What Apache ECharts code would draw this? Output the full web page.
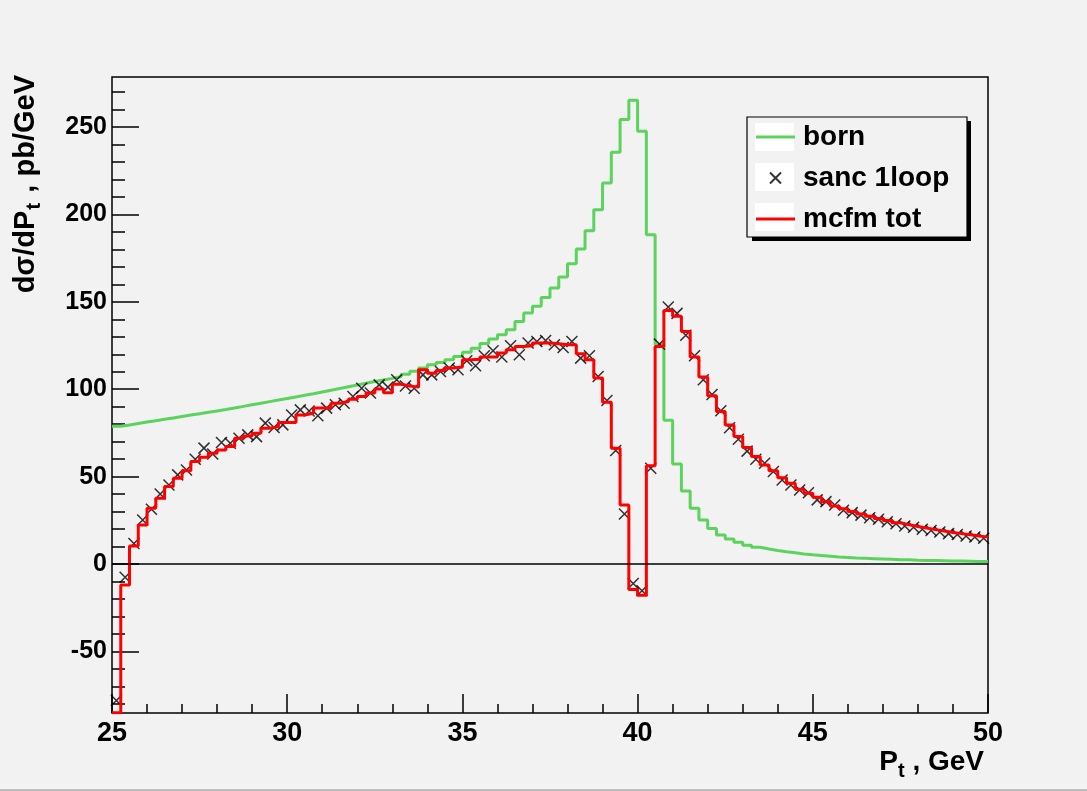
<!DOCTYPE html>
<html><head><meta charset="utf-8">
<script src="https://cdn.jsdelivr.net/npm/echarts@6/dist/echarts.min.js"></script>
<style>html,body{margin:0;padding:0;background:#f2f2f2;}#chart{width:1087px;height:791px;}</style>
</head><body><div id="chart"></div>
<script>
// histogram binning: 100 bins of 0.25 GeV from 25 to 50
const xBinStart = 25;
const xBinWidth = 0.25;

const seriesNames = ['born', 'sanc 1loop', 'mcfm tot'];

const born = [
78.8,79.6,80.4,81.2,82.0,82.8,83.6,84.4,85.2,86.0,
86.8,87.6,88.4,89.3,90.2,91.1,92.0,92.9,93.8,94.7,
95.6,96.5,97.4,98.4,99.4,100.4,101.4,102.4,103.4,104.4,
105.3,106.2,107.3,108.6,110.3,112.1,114.0,115.3,116.8,118.7,
121.2,123.5,126.2,128.7,131.2,134.0,138.8,143.6,147.4,152.5,
157.9,164.2,171.8,180.2,190.7,202.7,218.0,235.6,254.3,265.3,
247.6,188.4,125.5,82.2,57.3,41.8,31.9,25.2,20.4,16.6,
14.3,12.4,10.8,9.6,8.6,7.7,7.0,6.4,5.8,5.3,
4.9,4.5,4.1,3.8,3.5,3.3,3.1,2.9,2.7,2.5,
2.4,2.2,2.1,2.0,1.9,1.8,1.7,1.6,1.5,1.4
];

const sanc = [
-78,-7.6,11.8,25.2,31.3,40.1,45.2,51.0,53.8,60.0,
66.3,63.0,69.5,69.1,72.0,73.9,72.9,80.6,78.1,79.6,
85.3,88.2,87.6,84.8,89.2,91.1,92.0,95.8,100.6,97.8,
102.5,101.2,105.4,101.9,100.6,108.2,108.2,110.1,112.1,111.1,
116.3,113.4,119.1,122.0,118.4,124.9,119.7,126.4,127.3,127.9,
125.4,123.9,127.3,117.8,119.1,107.3,93.5,64.9,28.6,-11.1,
-15.3,54.8,125.8,147.0,143.4,130.9,119.1,105.4,97.0,87.7,
78.0,71.4,64.6,60.0,57.7,52.9,48.1,45.2,42.4,40.8,
36.7,35.7,33.8,30.8,29.4,28.0,26.5,25.6,24.2,23.0,
21.8,21.0,19.9,19.2,18.3,17.4,16.9,16.0,15.5,14.8
];

const mcfm = [
-85,-12.0,10.3,22.3,31.9,37.6,44.3,49.1,53.4,58.6,
61.1,63.4,65.3,67.2,72.0,73.3,74.8,77.7,78.6,80.9,
80.9,85.3,86.3,89.2,89.2,92.0,93.0,94.3,95.8,97.8,
100.1,98.0,102.8,101.9,101.2,111.1,109.2,110.7,112.1,112.7,
116.8,117.2,118.4,118.4,120.7,122.6,124.5,124.9,126.4,126.4,
126.0,125.4,125.4,120.3,116.8,106.4,92.5,66.2,33.8,-14.5,
-17.8,56.3,124.5,145.1,141.8,133.0,118.4,107.0,96.2,87.2,
79.6,72.9,66.6,61.5,56.7,53.4,49.4,46.2,42.8,40.5,
38.2,35.7,33.2,31.6,30.0,28.7,27.4,26.1,24.9,23.6,
22.5,21.5,20.6,19.7,18.9,18.1,17.4,16.7,16.0,15.4
];

const yMajorTicks = [-50, 0, 50, 100, 150, 200, 250];
const yMinorTicks = [-80,-70,-60,-40,-30,-20,-10,10,20,30,40,60,70,80,90,110,120,130,140,160,170,180,190,210,220,230,240,260,270];
const yRange = [-85.2, 278.6];
const xRange = [25, 50];

function histogramSteps(values) {
  const pts = values.map((v, i) => [xBinStart + i * xBinWidth, v]);
  pts.push([xBinStart + values.length * xBinWidth, values[values.length - 1]]);
  return pts;
}
function binCenters(values) {
  return values.map((v, i) => [xBinStart + (i + 0.5) * xBinWidth, v]);
}

const FONT = '"Liberation Sans", Arial, Helvetica, sans-serif';
const crossPath = 'path://M0 0L10 10M10 0L0 10';
const legendLineIcon = 'path://M0 12.5L39 12.5L39 15.5L0 15.5Z';
const legendCrossIcon = 'path://M0 0M39 28M14 8.5L25 19.5M25 8.5L14 19.5';

const chart = echarts.init(document.getElementById('chart'), null, {renderer: 'canvas'});
chart.setOption({
  animation: false,
  backgroundColor: '#f2f2f2',
  textStyle: {fontFamily: FONT},
  grid: {left: 112, top: 77, right: 99, bottom: 78, show: true, borderColor: '#000', borderWidth: 1.5, backgroundColor: 'transparent'},
  xAxis: {
    type: 'value', min: xRange[0], max: xRange[1], interval: 5,
    axisLine: {show: false, onZero: false},
    axisTick: {show: true, inside: true, length: 19, lineStyle: {color: '#000', width: 1.5}},
    minorTick: {show: true, splitNumber: 5, length: 9, lineStyle: {color: '#000', width: 1.5}},
    axisLabel: {color: '#000', fontSize: 27, fontWeight: 'bold', fontFamily: FONT, margin: 7},
    splitLine: {show: false}, minorSplitLine: {show: false}
  },
  yAxis: [{
    type: 'value', min: yRange[0], max: yRange[1], position: 'left',
    axisLine: {show: false, onZero: false},
    axisTick: {show: true, inside: true, length: 27, customValues: yMajorTicks, lineStyle: {color: '#000', width: 1.5}},
    axisLabel: {color: '#000', fontSize: 25, fontWeight: 'bold', fontFamily: FONT, margin: 5, customValues: yMajorTicks},
    splitLine: {show: false}
  }, {
    type: 'value', min: yRange[0], max: yRange[1], position: 'left',
    axisLine: {show: false, onZero: false},
    axisTick: {show: true, inside: true, length: 13, customValues: yMinorTicks, lineStyle: {color: '#000', width: 1.5}},
    axisLabel: {show: false},
    splitLine: {show: false}
  }],
  legend: {
    orient: 'vertical', left: 755, top: 123, itemWidth: 39, itemHeight: 28, itemGap: 12, padding: 0,
    data: [
      {name: seriesNames[0], icon: legendLineIcon},
      {name: seriesNames[1], icon: legendCrossIcon},
      {name: seriesNames[2], icon: legendLineIcon}
    ],
    textStyle: {fontSize: 28, fontWeight: 'bold', color: '#000', fontFamily: FONT, lineHeight: 28, padding: [0, 0, 0, 3]},
    z: 10
  },
  graphic: [
    {type: 'rect', shape: {x: 752, y: 121, width: 219, height: 120}, style: {fill: '#000'}, z: 1},
    {type: 'rect', shape: {x: 747, y: 117, width: 220, height: 120}, style: {fill: '#f2f2f2', stroke: '#000', lineWidth: 1.2}, z: 2},
    {type: 'rect', shape: {x: 755, y: 123, width: 39, height: 28}, style: {fill: '#fff'}, z: 3},
    {type: 'rect', shape: {x: 755, y: 163, width: 39, height: 28}, style: {fill: '#fff'}, z: 3},
    {type: 'rect', shape: {x: 755, y: 203, width: 39, height: 28}, style: {fill: '#fff'}, z: 3},
    {type: 'rect', shape: {x: 0, y: 789, width: 1087, height: 2}, style: {fill: '#bdbdbd'}, z: 1},
    {type: 'text', x: 40, y: 75, rotation: Math.PI / 2, z: 5,
      style: {text: '{m|dσ/dP}{s|t}{m| , pb/GeV}', align: 'right', verticalAlign: 'bottom', fill: '#000',
        rich: {m: {fontSize: 29, fontWeight: 'bold', fontFamily: FONT, lineHeight: 29, verticalAlign: 'top'},
               s: {fontSize: 21, fontWeight: 'bold', fontFamily: FONT, lineHeight: 21, padding: [13, 2, 0, 1], verticalAlign: 'top'}}}},
    {type: 'text', x: 984, y: 748, z: 5,
      style: {text: '{m|P}{s|t}{m| , GeV}', align: 'right', verticalAlign: 'top', fill: '#000',
        rich: {m: {fontSize: 28, fontWeight: 'bold', fontFamily: FONT, lineHeight: 28, verticalAlign: 'top'},
               s: {fontSize: 20, fontWeight: 'bold', fontFamily: FONT, lineHeight: 20, padding: [13, 0, 0, 0], verticalAlign: 'top'}}}}
  ],
  series: [
    {
      name: seriesNames[0], type: 'line', step: 'end', data: histogramSteps(born),
      symbol: 'none', showSymbol: false, clip: true, z: 2,
      color: '#5cd35c', lineStyle: {color: '#5cd35c', width: 3},
      itemStyle: {color: '#5cd35c'},
      emphasis: {disabled: true},
      markLine: {silent: true, symbol: ['none', 'none'], label: {show: false},
        lineStyle: {color: '#000', width: 1.5, type: 'solid'}, emphasis: {disabled: true},
        data: [{yAxis: 0}]}
    },
    {
      name: seriesNames[1], type: 'scatter', data: binCenters(sanc),
      symbol: crossPath, symbolSize: 11, clip: true, z: 3,
      itemStyle: {color: 'rgba(0,0,0,0)', borderColor: '#000', borderWidth: 1.5},
      emphasis: {disabled: true}
    },
    {
      name: seriesNames[2], type: 'line', step: 'end', data: histogramSteps(mcfm),
      symbol: 'none', showSymbol: false, clip: true, z: 4,
      color: '#ff0000', lineStyle: {color: '#ff0000', width: 3},
      itemStyle: {color: '#ff0000'},
      emphasis: {disabled: true}
    }
  ]
});
</script></body></html>
